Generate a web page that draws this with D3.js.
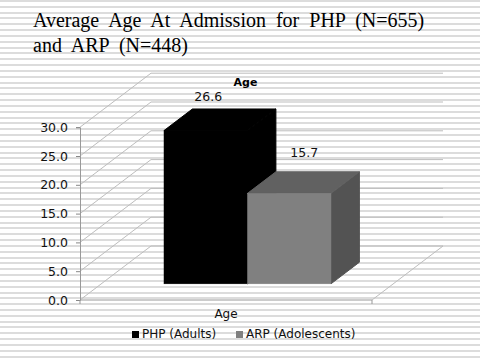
<!DOCTYPE html>
<html>
<head>
<meta charset="utf-8">
<script src="https://cdnjs.cloudflare.com/ajax/libs/d3/7.8.5/d3.min.js"></script>
<style>
  html, body { margin: 0; padding: 0; background: #fff; }
  svg { display: block; }
  text { font-family: "DejaVu Sans", sans-serif; fill: #111; }
</style>
</head>
<body>
<script>
const titleLines = ["Average  Age  At  Admission  for  PHP  (N=655)", "and  ARP  (N=448)"]
const chartTitle = "Age"
const category = "Age"
const seriesNames = ["PHP (Adults)", "ARP (Adolescents)"]
const seriesValues = [26.6, 15.7]
const seriesLabels = ["26.6", "15.7"]
const seriesColors = [
  { front: "#000000", top: "#000000", side: "#000000" },
  { front: "#808080", top: "#616161", side: "#535353" }
]
const yTicks = [0, 5, 10, 15, 20, 25, 30]

const layout = {
  width: 480, height: 360,
  left: 80, right: 372, bottom: 300, top: 127.2,
  depthX: 71, depthY: 54,
  stripeGap: 5.83,
  labelDx: [2.5, 15],
  labelDy: [30, 36.6],
  legendX: [132, 236]
}

const svg = d3.select("body").append("svg")
  .attr("width", layout.width)
  .attr("height", layout.height)

// striped slide background
svg.append("rect")
  .attr("width", layout.width)
  .attr("height", layout.height)
  .attr("fill", "#fff")

svg.append("g")
  .attr("shape-rendering", "crispEdges")
  .selectAll("rect")
  .data(d3.range(0, Math.ceil(layout.height / layout.stripeGap)))
  .join("rect")
  .attr("y", d => Math.round(d * layout.stripeGap))
  .attr("width", layout.width)
  .attr("height", 2)
  .attr("fill", "#dcdcdc")

// slide title
svg.append("g").selectAll("text")
  .data(titleLines)
  .join("text")
  .attr("x", 33)
  .attr("y", (d, i) => 27 + i * 25)
  .style("font-family", "'Liberation Serif', serif")
  .style("font-size", "20px")
  .style("fill", "#000")
  .style("white-space", "pre")
  .attr("xml:space", "preserve")
  .text(d => d)

const y = d3.scaleLinear().domain([0, 30]).range([layout.bottom, layout.top])
const x = d3.scaleBand().domain(seriesNames).range([164, 331]).padding(0)
// depth goes 0 (front plane) to 1 (back wall)
const depth = d3.scaleLinear().domain([0, 1]).range([0, layout.depthX])
const depthY = d3.scaleLinear().domain([0, 1]).range([0, layout.depthY])

const barDepth = { near: 0.3, far: 0.7 }
const project = (px, py, d) => [px + depth(d), py - depthY(d)]
const line = d3.line()

// gridlines along side wall and back wall
const grid = svg.append("g")
grid.selectAll("path.side")
  .data(yTicks)
  .join("path")
  .attr("class", "side")
  .attr("fill", "none")
  .attr("stroke", "#bdbdbd")
  .attr("d", d => line([project(layout.left, y(d), 0), project(layout.left, y(d), 1), project(layout.right, y(d), 1)]))

// floor right edge
grid.append("path")
  .attr("fill", "none")
  .attr("stroke", "#bdbdbd")
  .attr("d", line([project(layout.right, y(0), 0), project(layout.right, y(0), 1)]))

// axes
const yAxis = d3.axisLeft(y).tickValues(yTicks).tickFormat(d3.format(".1f")).tickSize(4).tickPadding(8)
const yG = svg.append("g")
  .attr("transform", `translate(${layout.left},0)`)
  .call(yAxis)
yG.select(".domain").attr("stroke", "#999")
yG.selectAll("line").attr("stroke", "#888")
yG.selectAll("text").style("font-size", "12.5px")

const xScale = d3.scaleBand().domain([category]).range([layout.left, layout.right])
const xAxis = d3.axisBottom(xScale).tickSize(0).tickPadding(9)
const xG = svg.append("g")
  .attr("transform", `translate(0,${layout.bottom})`)
  .call(xAxis)
xG.select(".domain").attr("stroke", "#999").attr("d", `M${layout.left},4V0H${layout.right}V4`)
xG.selectAll("text").style("font-size", "12px")

// bars
const bars = svg.append("g")
  .selectAll("g")
  .data(seriesNames.map((name, i) => ({ name, i, value: seriesValues[i], label: seriesLabels[i], color: seriesColors[i] })))
  .join("g")

function barPoints(d) {
  const x0 = x(d.name), x1 = x0 + x.bandwidth()
  const yb = y(0) - depthY(barDepth.near), yt = y(d.value) - depthY(barDepth.near)
  const dx = depth(barDepth.far - barDepth.near), dy = depthY(barDepth.far - barDepth.near)
  return { x0, x1, yb, yt, dx, dy }
}

bars.append("path")
  .attr("fill", d => d.color.side)
  .attr("stroke", d => d.color.side)
  .attr("stroke-width", 1)
  .attr("d", d => {
    const p = barPoints(d)
    return line([[p.x1, p.yt], [p.x1 + p.dx, p.yt - p.dy], [p.x1 + p.dx, p.yb - p.dy], [p.x1, p.yb]]) + "Z"
  })
bars.append("path")
  .attr("fill", d => d.color.top)
  .attr("stroke", d => d.color.top)
  .attr("stroke-width", 1)
  .attr("d", d => {
    const p = barPoints(d)
    return line([[p.x0, p.yt], [p.x0 + p.dx, p.yt - p.dy], [p.x1 + p.dx, p.yt - p.dy], [p.x1, p.yt]]) + "Z"
  })
bars.append("rect")
  .attr("fill", d => d.color.front)
  .attr("stroke", d => d.color.front)
  .attr("stroke-width", 0.5)
  .attr("x", d => barPoints(d).x0)
  .attr("y", d => barPoints(d).yt)
  .attr("width", x.bandwidth())
  .attr("height", d => barPoints(d).yb - barPoints(d).yt)

svg.append("g").selectAll("text")
  .data(seriesLabels)
  .join("text")
  .attr("x", (d, i) => x(seriesNames[i]) + x.bandwidth() / 2 + layout.labelDx[i])
  .attr("y", (d, i) => y(seriesValues[i]) - depthY(barDepth.near) - layout.labelDy[i])
  .attr("text-anchor", "middle")
  .style("font-size", "12.5px")
  .text(d => d)

// chart title
svg.append("text")
  .attr("x", 245.5)
  .attr("y", 86)
  .attr("text-anchor", "middle")
  .style("font-size", "11px")
  .style("font-weight", "bold")
  .style("fill", "#000")
  .text(chartTitle)

// legend
const legend = svg.append("g").selectAll("g")
  .data(seriesNames)
  .join("g")
  .attr("transform", (d, i) => `translate(${layout.legendX[i]},338)`)
legend.append("rect")
  .attr("y", -7)
  .attr("width", 7)
  .attr("height", 7)
  .attr("fill", (d, i) => seriesColors[i].front)
legend.append("text")
  .attr("x", 10)
  .attr("y", 0)
  .style("font-size", "12px")
  .text(d => d)
</script>
</body>
</html>
